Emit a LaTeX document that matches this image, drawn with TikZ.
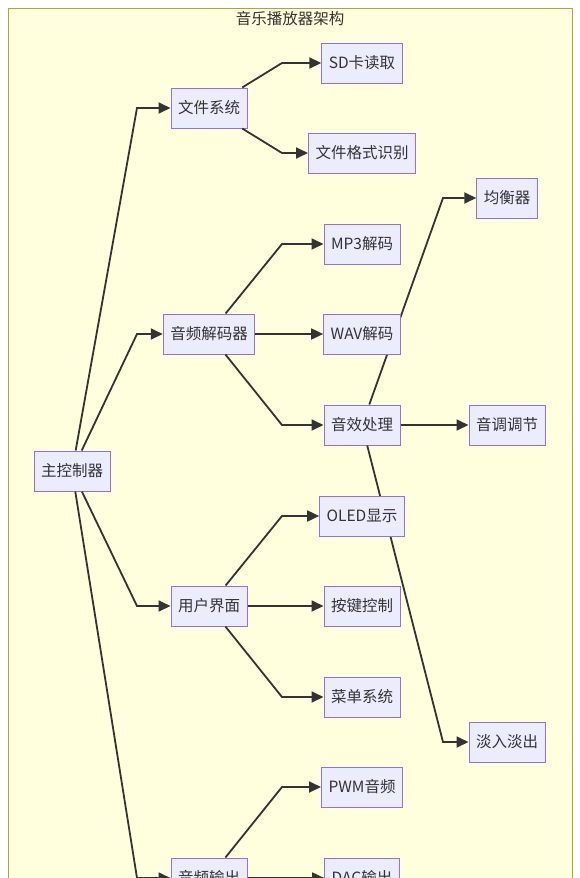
\documentclass[tikz,border=0pt]{standalone}
\usepackage{fontspec}
\setmainfont{Noto Sans CJK SC}
\usetikzlibrary{arrows.meta}
\definecolor{nodefill}{HTML}{ECECFF}
\definecolor{nodeline}{HTML}{9370DB}
\definecolor{clusfill}{HTML}{FFFFDE}
\definecolor{clusline}{HTML}{AAAA33}
\definecolor{edgecol}{HTML}{333333}
\tikzset{
  box/.style={draw=nodeline, fill=nodefill, line width=1pt, text=edgecol,
    font=\fontsize{15.5}{18}\selectfont, minimum height=40pt, inner xsep=7pt, inner ysep=0pt},
  arr/.style={draw=edgecol, line width=1.8pt, -{Triangle[length=12pt,width=11pt]}},
}
\begin{document}
\begin{tikzpicture}[x=1pt,y=-1pt]
\useasboundingbox (0,0) rectangle (580,878);
\clip (0,0) rectangle (580,878);
\node[draw=clusline, fill=clusfill, line width=1.2pt, minimum width=564pt, minimum height=900pt, anchor=north west, inner sep=0pt] (frame) at (8,8) {};
\node[text=edgecol, font=\fontsize{15.5}{18}\selectfont] (title) at (290,19) {音乐播放器架构};
\coordinate (cA) at (137,0);
\coordinate (cB) at (282,0);
\coordinate (cC) at (443,0);
% nodes
\node[box] (main) at (72,471) {主控制器};
\node[box] (fs) at (209,108) {文件系统};
\node[box] (dec) at (209,334) {音频解码器};
\node[box] (ui) at (209,606) {用户界面};
\node[box] (out) at (209,878) {音频输出};
\node[box] (sd) at (362,63) {SD卡读取};
\node[box] (fmt) at (362,153) {文件格式识别};
\node[box] (mp3) at (362,244) {MP3解码};
\node[box] (wav) at (362,334) {WAV解码};
\node[box] (fx) at (362,425) {音效处理};
\node[box] (oled) at (362,516) {OLED显示};
\node[box] (key) at (362,606) {按键控制};
\node[box] (menu) at (362,697) {菜单系统};
\node[box] (pwm) at (362,787) {PWM音频};
\node[box] (dac) at (362,878) {DAC输出};
\node[box] (eq) at (507,198) {均衡器};
\node[box] (pitch) at (507,425) {音调调节};
\node[box] (fade) at (507,742) {淡入淡出};
% edges from main
\draw[arr] (main) -- (fs.west -| cA) -- (fs.west);
\draw[arr] (main) -- (dec.west -| cA) -- (dec.west);
\draw[arr] (main) -- (ui.west -| cA) -- (ui.west);
\draw[arr] (main) -- (out.west -| cA) -- (out.west);
% second level
\draw[arr] (fs) -- (sd.west -| cB) -- (sd.west);
\draw[arr] (fs) -- (fmt.west -| cB) -- (fmt.west);
\draw[arr] (dec) -- (mp3.west -| cB) -- (mp3.west);
\draw[arr] (dec.east) -- (wav.west);
\draw[arr] (dec) -- (fx.west -| cB) -- (fx.west);
\draw[arr] (ui) -- (oled.west -| cB) -- (oled.west);
\draw[arr] (ui.east) -- (key.west);
\draw[arr] (ui) -- (menu.west -| cB) -- (menu.west);
\draw[arr] (out) -- (pwm.west -| cB) -- (pwm.west);
\draw[arr] (out.east) -- (dac.west);
% third level (behind boxes)
\begin{scope}
\draw[arr] (fx) -- (eq.west -| cC) -- (eq.west);
\draw[arr] (fx.east) -- (pitch.west);
\draw[arr] (fx) -- (fade.west -| cC) -- (fade.west);
\end{scope}
% redraw boxes crossed by long edges
\node[box] at (wav) {WAV解码};
\node[box] at (oled) {OLED显示};
\end{tikzpicture}
\end{document}
